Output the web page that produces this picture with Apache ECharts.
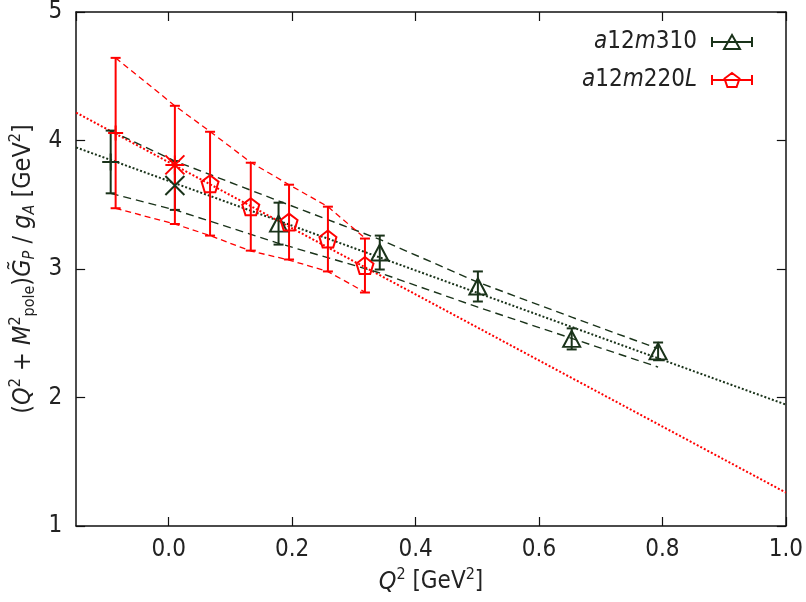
<!DOCTYPE html>
<html lang="en">
<head>
<meta charset="UTF-8">
<title>G_P pole fit</title>
<script src="https://cdn.jsdelivr.net/npm/echarts@6/dist/echarts.min.js"></script>
<style>
    html, body { margin: 0; background: #fff; }
    #main { width: 806px; height: 602px; }
</style>
</head>
<body>
<div id="main"></div>
<script type="text/javascript">
// a12m310 (triangles)
var m310X   = [0.178, 0.342, 0.501, 0.653, 0.793];
var m310Y   = [3.353, 3.128, 2.864, 2.456, 2.359];
var m310Err = [0.163, 0.132, 0.117, 0.082, 0.069];
// a12m310 extrapolated points: plus at -M^2, cross at Q^2 = 0
var m310PoleX = [-0.094], m310PoleY = [3.833], m310PoleErr = [0.244];
var m310ZeroX = [0.010],  m310ZeroY = [3.650], m310ZeroErr = [0.190];

// a12m220L (pentagons)
var m220X   = [0.067, 0.133, 0.195, 0.258, 0.318];
var m220Y   = [3.664, 3.485, 3.365, 3.233, 3.027];
var m220Err = [0.404, 0.342, 0.291, 0.252, 0.210];
var m220PoleX = [-0.086], m220PoleY = [4.058], m220PoleErr = [0.585];
var m220ZeroX = [0.010],  m220ZeroY = [3.810], m220ZeroErr = [0.460];

// fit lines (dotted) and error bands (dashed)
var fitM310 = [[-0.15, 3.946], [1.0, 1.945]];
var fitM220 = [[-0.15, 4.217], [1.0, 1.260]];
var bandM310X  = [-0.094, 0.010, 0.178, 0.342, 0.501, 0.653, 0.793];
var bandM310Up = [4.076, 3.840, 3.530, 3.230, 2.897, 2.625, 2.380];
var bandM310Lo = [3.589, 3.460, 3.200, 2.970, 2.703, 2.460, 2.237];
var bandM220X  = [-0.086, 0.010, 0.067, 0.133, 0.195, 0.258, 0.318];
var bandM220Up = [4.643, 4.270, 4.070, 3.830, 3.656, 3.485, 3.240];
var bandM220Lo = [3.472, 3.350, 3.260, 3.140, 3.070, 2.980, 2.820];

var dark = '#1a331a';
var red = '#ff0000';
var ink = '#222';
var font = '"DejaVu Sans Condensed", "DejaVu Sans", sans-serif';

var pentPath = 'path://M10,0 L19.5,6.9 L15.9,18.1 L4.1,18.1 L0.5,6.9 Z';
var crossPath = 'path://M0,0 L10,10 M10,0 L0,10';
var starPath = 'path://M0,0 L10,10 M10,0 L0,10 M0,5 L10,5 M5,0 L5,10';
var plusPath = 'path://M0,5 L10,5 M5,0 L5,10';
var legTri = 'path://M0,8 L40,8 M0,3 L0,13 M40,3 L40,13 M12,15 L20,1 L28,15 Z';
var legPent = 'path://M0,8 L40,8 M0,3 L0,13 M40,3 L40,13 M20,1 L27.5,6.5 L24.6,15 L15.4,15 L12.5,6.5 Z';

function zip(xs, ys) {
    return xs.map(function (x, i) { return [x, ys[i]]; });
}
function bars(xs, ys, es) {
    return xs.map(function (x, i) { return [x, ys[i] - es[i], ys[i] + es[i]]; });
}
function errSeries(data, color, cap) {
    return {
        type: 'custom', silent: true, z: 3,
        encode: { x: 0, y: [1, 2] },
        data: data,
        renderItem: function (params, api) {
            var x = api.value(0);
            var lo = api.coord([x, api.value(1)]);
            var hi = api.coord([x, api.value(2)]);
            var h = cap / 2;
            var st = { stroke: color, lineWidth: 2 };
            return { type: 'group', children: [
                { type: 'line', shape: { x1: lo[0], y1: lo[1], x2: hi[0], y2: hi[1] }, style: st },
                { type: 'line', shape: { x1: lo[0] - h, y1: lo[1], x2: lo[0] + h, y2: lo[1] }, style: st },
                { type: 'line', shape: { x1: hi[0] - h, y1: hi[1], x2: hi[0] + h, y2: hi[1] }, style: st }
            ]};
        }
    };
}
function lineSeries(data, color, dash, width) {
    return {
        type: 'line', silent: true, showSymbol: false, z: 2,
        data: data,
        lineStyle: { color: color, width: width, type: dash },
        animation: false
    };
}
function markSeries(name, data, symbol, size, color, fill) {
    return {
        name: name, type: 'scatter', silent: true, z: 4,
        data: data, symbol: symbol, symbolSize: size,
        itemStyle: { color: fill, borderColor: color, borderWidth: 2, opacity: 1 }
    };
}

var chart = echarts.init(document.getElementById('main'));
var clear = 'rgba(0,0,0,0)';

var richText = {
    i: { fontFamily: font, fontSize: 25, fontStyle: 'italic', color: ink },
    sup: { fontFamily: font, fontSize: 16, color: ink, padding: [0, 0, 14, 0] },
    sub: { fontFamily: font, fontSize: 16, color: ink, padding: [13, 0, 0, 0] },
    subi: { fontFamily: font, fontSize: 16, fontStyle: 'italic', color: ink, padding: [13, 0, 0, 0] }
};

var option = {
    animation: false,
    grid: { left: 76, right: 19, top: 11, bottom: 76 },
    legend: {
        selectedMode: false,
        orient: 'vertical', align: 'right',
        right: 48, top: 25,
        itemWidth: 40, itemHeight: 16, itemGap: 14,
        data: [
            { name: 'a12m310', icon: legTri, itemStyle: { color: clear, borderColor: dark, borderWidth: 2 } },
            { name: 'a12m220L', icon: legPent, itemStyle: { color: clear, borderColor: red, borderWidth: 2 } }
        ],
        formatter: function (name) {
            return name === 'a12m310' ? '{i|a}12{i|m}310' : '{i|a}12{i|m}220{i|L}';
        },
        textStyle: {
            fontFamily: font, fontSize: 24, color: ink, padding: [0, 10, 0, 0],
            rich: { i: { fontFamily: font, fontSize: 24, fontStyle: 'italic', color: ink } }
        }
    },
    xAxis: [{
        type: 'value', min: -0.15, max: 1.0, minInterval: 0.2, maxInterval: 0.2,
        splitLine: { show: false },
        axisLine: { onZero: false, lineStyle: { color: '#111', width: 1.5 } },
        axisTick: { inside: true, length: 9, lineStyle: { color: '#111', width: 1.2 } },
        axisLabel: {
            margin: 12, fontFamily: font, fontSize: 24, color: ink, showMinLabel: false,
            formatter: function (v) { return v.toFixed(1); }
        },
        name: '{i|Q}{sup|2} [GeV{sup|2}]',
        nameLocation: 'middle', nameGap: 41,
        nameTextStyle: { fontFamily: font, fontSize: 24, color: ink, rich: richText }
    }, {
        type: 'value', position: 'top', min: -0.15, max: 1.0, minInterval: 0.2, maxInterval: 0.2,
        splitLine: { show: false },
        axisLine: { onZero: false, lineStyle: { color: '#111', width: 1.5 } },
        axisTick: { inside: true, length: 9, lineStyle: { color: '#111', width: 1.2 } },
        axisLabel: { show: false }
    }],
    yAxis: [{
        type: 'value', min: 1, max: 5, interval: 1,
        splitLine: { show: false },
        axisLine: { show: true, onZero: false, lineStyle: { color: '#111', width: 1.5 } },
        axisTick: { show: true, inside: true, length: 9, lineStyle: { color: '#111', width: 1.2 } },
        axisLabel: { margin: 14, fontFamily: font, fontSize: 24, color: ink },
        name: '({i|Q}{sup|2} + {i|M}{sup|2}{sub|pole}){i|G̃}{subi|P} / {i|g}{subi|A} [GeV{sup|2}]',
        nameLocation: 'middle', nameGap: 34, nameRotate: 90,
        nameTextStyle: { fontFamily: font, fontSize: 25, color: ink, rich: richText }
    }, {
        type: 'value', position: 'right', min: 1, max: 5, interval: 1,
        splitLine: { show: false },
        axisLine: { show: true, onZero: false, lineStyle: { color: '#111', width: 1.5 } },
        axisTick: { show: true, inside: true, length: 9, lineStyle: { color: '#111', width: 1.2 } },
        axisLabel: { show: false }
    }],
    series: [
        lineSeries(fitM310, dark, [2, 2], 2),
        lineSeries(fitM220, red, [2, 2], 2),
        lineSeries(zip(bandM310X, bandM310Up), dark, [8, 5], 1.4),
        lineSeries(zip(bandM310X, bandM310Lo), dark, [8, 5], 1.4),
        lineSeries(zip(bandM220X, bandM220Up), red, [6, 4], 1.3),
        lineSeries(zip(bandM220X, bandM220Lo), red, [6, 4], 1.3),
        errSeries(bars(m310X, m310Y, m310Err), dark, 10),
        errSeries(bars(m310PoleX, m310PoleY, m310PoleErr), dark, 10),
        errSeries(bars(m310ZeroX, m310ZeroY, m310ZeroErr), dark, 10),
        errSeries(bars(m220X, m220Y, m220Err), red, 10),
        errSeries(bars(m220PoleX, m220PoleY, m220PoleErr), red, 10),
        errSeries(bars(m220ZeroX, m220ZeroY, m220ZeroErr), red, 10),
        markSeries('a12m310', zip(m310X, m310Y), 'triangle', [17, 16], dark, clear),
        markSeries('m310pole', zip(m310PoleX, m310PoleY), plusPath, 17, dark, clear),
        markSeries('m310zero', zip(m310ZeroX, m310ZeroY), crossPath, 19, dark, clear),
        markSeries('a12m220L', zip(m220X, m220Y), pentPath, 17, red, clear),
        markSeries('m220pole', zip(m220PoleX, m220PoleY), plusPath, 15, red, clear),
        markSeries('m220zero', zip(m220ZeroX, m220ZeroY), starPath, 19, red, clear)
    ]
};
chart.setOption(option);
</script>
</body>
</html>
